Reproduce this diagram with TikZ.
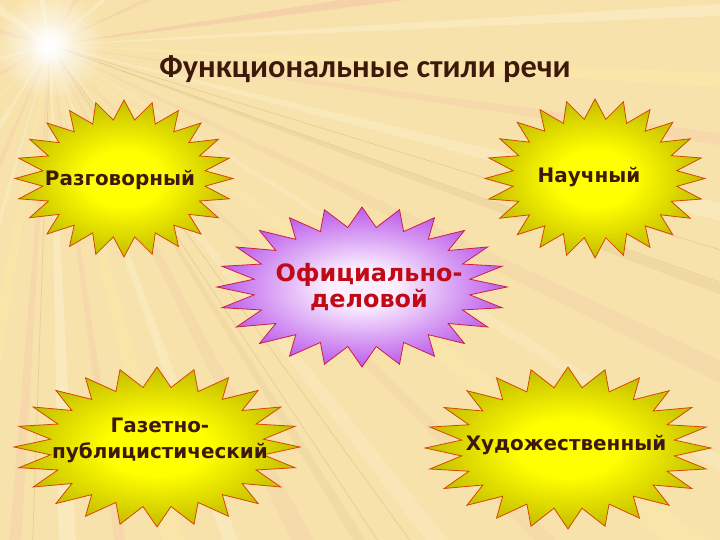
\documentclass[tikz,border=0pt]{standalone}
\usepackage{fontspec}
\setmainfont{DejaVu Sans}
\newfontfamily\titlefont{Carlito}
\usetikzlibrary{fadings}
\tikzfading[name=sunglow, inner color=transparent!0, outer color=transparent!100]
\definecolor{bg}{RGB}{248,226,172}
\definecolor{rw}{RGB}{255,250,230}
\definecolor{rp}{RGB}{240,180,165}
\definecolor{ry}{RGB}{255,240,160}
\definecolor{rg}{RGB}{200,165,110}
\definecolor{ycen}{RGB}{255,255,0}
\definecolor{yedge}{RGB}{188,180,0}
\definecolor{pcen}{RGB}{250,238,255}
\definecolor{pedge}{RGB}{184,84,234}
\definecolor{yline}{RGB}{214,72,0}
\definecolor{pline}{RGB}{205,30,70}
\definecolor{txtdark}{RGB}{62,24,10}
\definecolor{txtred}{RGB}{192,10,22}
\pgfdeclareradialshading{yshade}{\pgfpoint{0bp}{0bp}}{color(0bp)=(ycen); color(9bp)=(ycen); color(27bp)=(yedge); color(50bp)=(yedge)}
\pgfdeclareradialshading{pshade}{\pgfpoint{0bp}{0bp}}{color(0bp)=(pcen); color(6bp)=(pcen); color(26bp)=(pedge); color(50bp)=(pedge)}
\newcommand\burst[5]{%
  \path[#5] plot[samples=49,domain=0:48,variable=\k]
    ({#1+(1-0.25*mod(round(\k),2))*#3*cos(\k*7.5)},
     {#2+(1-0.25*mod(round(\k),2))*#4*sin(\k*7.5)}) -- cycle;}
\tikzset{
  ystar/.style={shading=yshade, draw=yline, line width=0.8bp, line join=miter},
  pstar/.style={shading=pshade, draw=pline, line width=0.8bp, line join=miter},
  lbl/.style={font=\bfseries\fontsize{20}{26}\selectfont, text=txtdark, align=center, inner sep=0pt},
  redlbl/.style={font=\bfseries\fontsize{24}{26}\selectfont, text=txtred, align=center, inner sep=0pt},
  ttl/.style={font=\titlefont\bfseries\fontsize{32.5}{36}\selectfont, text=txtdark, inner sep=0pt}
}
\begin{document}
\begin{tikzpicture}[x=1bp,y=-1bp]
\useasboundingbox (0,0) rectangle (720,540);
\fill[bg] (0,0) rectangle (720,540);
\coordinate (sun) at (50,45);
\begin{scope}
\clip (0,0) rectangle (720,540);
\foreach \a/\w/\c/\o in {-100/3/rw/.3, -80/2/ry/.35, -60/2/rp/.25, -40/1.5/rw/.3, -25/1/rp/.25,
  -8/0.8/rp/.35, -3/0.5/rw/.3, 3/0.6/ry/.3, 8/0.5/rp/.2, 14/0.7/rw/.25, 20/0.4/rg/.15,
  26/0.8/rp/.15, 32/0.5/rw/.2, 38/1/ry/.2, 45/0.6/rp/.15, 52/0.8/rw/.2, 58/0.5/rg/.12,
  63/1/rp/.15, 70/0.8/rw/.25, 76/1.2/ry/.25, 82/0.6/rp/.2, 88/1/rw/.3, 94/0.7/rp/.2,
  100/1.2/ry/.25, 106/0.6/rw/.25, 113/1/rp/.2, 122/1.5/rw/.25, 135/2/ry/.25, 150/2/rp/.2,
  165/2/rw/.25, 180/2.5/ry/.25, 195/3/rp/.2, 215/4/rw/.3, 240/4/ry/.25}{
  \fill[\c, opacity=\o] (sun) -- +(\a-\w:1000) -- +(\a+\w:1000) -- cycle;
}
\foreach \a in {17,19.5,54,56.5,92}{
  \draw[rg, line width=0.7bp, opacity=.35] (sun) -- +(\a:1000);
}
\fill[white, path fading=sunglow] (sun) circle (55);
\fill[white, path fading=sunglow] (sun) circle (22);
\end{scope}
% title
\node[ttl] (title) at (365,69) {Функциональные стили речи};
% stars
\burst{124}{178.5}{109}{78.5}{ystar}
\burst{595}{178.5}{110}{79.5}{ystar}
\burst{362}{287}{145}{80}{pstar}
\burst{157}{447}{143}{80}{ystar}
\burst{568}{448}{143}{81}{ystar}
% labels
\node[lbl] (razg) at (120,180) {Разговорный};
\node[lbl] (nauch) at (589,177) {Научный};
\node[redlbl] (ofic) at (369,287) {Официально-\\деловой};
\node[lbl] (gaz) at (160,440) {Газетно-\\публицистический};
\node[lbl] (hud) at (566,445) {Художественный};
\end{tikzpicture}
\end{document}
